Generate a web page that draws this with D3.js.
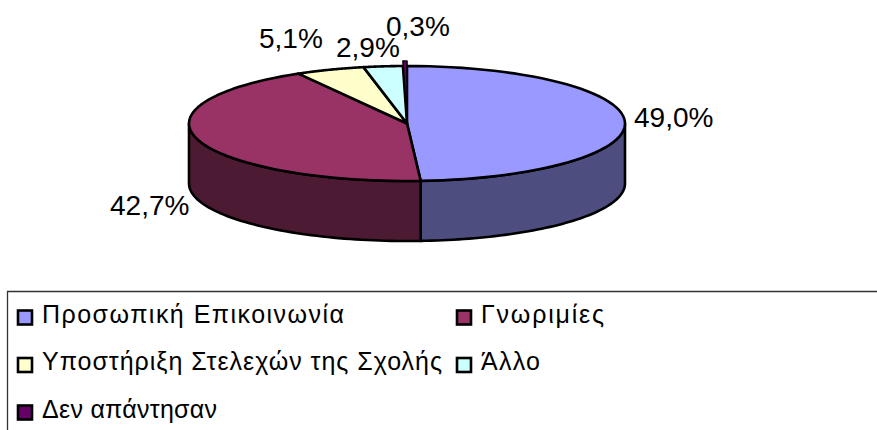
<!DOCTYPE html>
<html><head><meta charset="utf-8">
<script src="https://cdn.jsdelivr.net/npm/d3@7/dist/d3.min.js"></script>
<style>html,body{margin:0;padding:0;background:#fff}svg{display:block}text{font-family:"Liberation Sans",Arial,sans-serif;fill:#000}</style>
</head><body><svg id="c" width="877" height="430"></svg>
<script>
const categories = ["Προσωπική Επικοινωνία","Γνωριμίες","Υποστήριξη Στελεχών της Σχολής","Άλλο","Δεν απάντησαν"];
const values = [49.0,42.7,5.1,2.9,0.3];
const valueLabels = ["49,0%","42,7%","5,1%","2,9%","0,3%"];
const colors = ["#9999ff","#993366","#ffffcc","#ccffff","#660066"];
const wallColors = ["#4d4d80","#4d1a33","#808066","#668080","#330033"];

const svg = d3.select("#c");
const cx=407, cy=123.5, rx=218, ry=57.5, depth=60;
const labelPos=[[634,127],[110,215],[259,48],[336,57],[386,36]];
const explode=[0,0,0,0,5];
const sliceStroke=[2.6,2.6,2.6,2.6,1.6];
const pie=d3.pie().sort(null).value(d=>d);
const arcs=pie(values);
const px=a=>cx+rx*Math.sin(a), py=a=>cy-ry*Math.cos(a);
const line=d3.line();
const steps=(a0,a1)=>d3.range(0,61).map(i=>a0+(a1-a0)*i/60);
function sty(s,w){return s.attr("stroke","#000").attr("stroke-width",w||2.6).attr("stroke-linejoin","round");}

// side walls (front half of the disc only)
arcs.forEach((d,i)=>{
  const a0=Math.max(d.startAngle,Math.PI/2), a1=Math.min(d.endAngle,3*Math.PI/2);
  if(a1<=a0) return;
  const top=steps(a0,a1).map(a=>[px(a),py(a)]);
  const bot=steps(a1,a0).map(a=>[px(a),py(a)+depth]);
  sty(svg.append("path").attr("d",line(top.concat(bot))+"Z").attr("fill",wallColors[i]));
});
// top faces
arcs.forEach((d,i)=>{
  const pts=[[cx,cy]].concat(steps(d.startAngle,d.endAngle).map(a=>[px(a),py(a)]));
  sty(svg.append("path").attr("d",line(pts)+"Z").attr("fill",colors[i]).attr("transform",`translate(0,${-explode[i]})`),sliceStroke[i]);
});
// value labels
valueLabels.forEach((t,i)=>svg.append("text").attr("x",labelPos[i][0]).attr("y",labelPos[i][1]).attr("font-size",28).text(t));

// legend
svg.append("path").attr("d","M877,291.5H7.5V430").attr("fill","none").attr("stroke","#333").attr("stroke-width",1.3);
const colX=[18,457], rowY=[310.5,358,405.5];
const legendCells=[[0,0],[1,0],[0,1],[1,1],[0,2]];
const textLen=[302,123,400,59,175];
categories.forEach((c,i)=>{
  const [k,r]=legendCells[i];
  svg.append("rect").attr("x",colX[k]).attr("y",rowY[r]).attr("width",14).attr("height",14)
    .attr("fill",colors[i]).attr("stroke","#000").attr("stroke-width",2.6);
  svg.append("text").attr("x",colX[k]+24).attr("y",rowY[r]+12).attr("font-size",25)
    .attr("textLength",textLen[i]).attr("lengthAdjust","spacing").text(c);
});
</script></body></html>
